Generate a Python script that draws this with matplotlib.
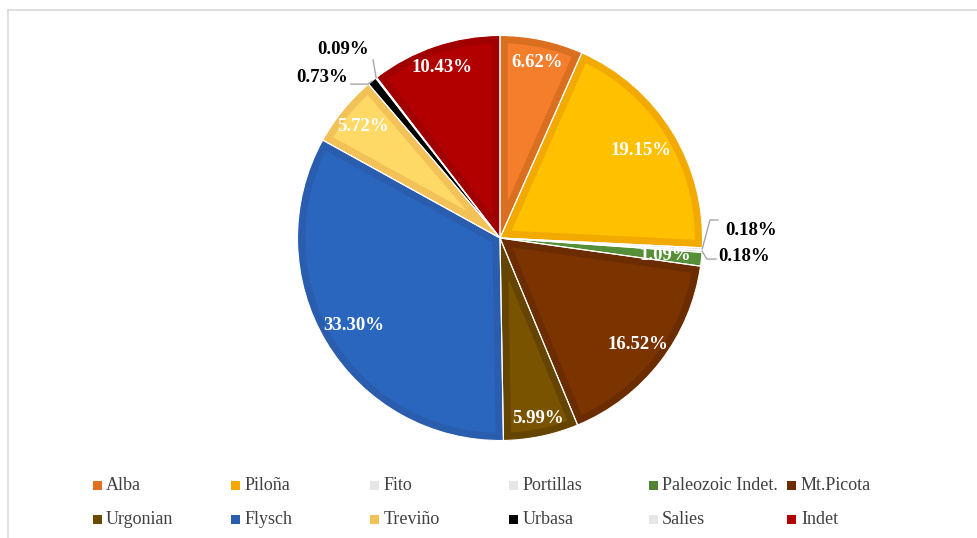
import numpy as np
import matplotlib.pyplot as plt
from matplotlib.patches import Rectangle, Polygon

labels = ['Alba', 'Piloña', 'Fito', 'Portillas', 'Paleozoic Indet.', 'Mt.Picota',
          'Urgonian', 'Flysch', 'Treviño', 'Urbasa', 'Salies', 'Indet']
values = [6.62, 19.15, 0.18, 0.18, 1.09, 16.52, 5.99, 33.30, 5.72, 0.73, 0.09, 10.43]
fills = ['#F47E2C', '#FFC000', '#E7E6E6', '#E7E6E6', '#62A043', '#7B3300',
         '#7A5300', '#2A66BE', '#FFD966', '#000000', '#E7E6E6', '#B20000']
rims = ['#D96F1F', '#F2A900', '#E0E0E0', '#E0E0E0', '#559038', '#6B2C00',
        '#654400', '#2A5DAE', '#F2C259', '#000000', '#E0E0E0', '#A00000']
legend_colors = ['#E07020', '#F5A800', '#E7E6E6', '#E7E6E6', '#548235', '#6B2C00',
                 '#6B4A00', '#2A5DAE', '#F2C259', '#000000', '#E7E6E6', '#B00000']

# labels drawn inside the slices, with their radial distance
inside_dist = {0: 0.885, 1: 0.82, 4: 0.82, 5: 0.86, 6: 0.91, 7: 0.84, 8: 0.87, 11: 0.89}

W, H = 978, 538
fig = plt.figure(figsize=(W / 100, H / 100), dpi=100)
plt.rcParams['font.family'] = ['Liberation Serif', 'DejaVu Serif']

# chart frame (only top and left edges are visible in the crop)
fig.add_artist(plt.Line2D([8 / W, 1], [1 - 10 / H, 1 - 10 / H], color='#D9D9D9', lw=1.2))
fig.add_artist(plt.Line2D([8 / W, 8 / W], [0, 1 - 10 / H], color='#D9D9D9', lw=1.2))

cx, cy, r = 500, 238, 202.5
ax = fig.add_axes([(cx - r) / W, (H - cy - r) / H, 2 * r / W, 2 * r / H])

# base pie in the darker rim colour
wedges, _ = ax.pie(values, colors=rims, startangle=90, counterclock=False, radius=1,
                   wedgeprops=dict(linewidth=0))

# lighter inner fill, inset from every edge by d
d = 0.038
for w, fc in zip(wedges, fills):
    t1, t2 = np.deg2rad(w.theta1), np.deg2rad(w.theta2)
    h = (t2 - t1) / 2
    da = np.arcsin(d / (1 - d))
    if h <= da + 0.01:
        continue
    mid = t1 + h
    apex = d / np.sin(h) * np.array([np.cos(mid), np.sin(mid)])
    arc = np.linspace(t1 + da, t2 - da, 60)
    pts = [apex] + [(1 - d) * np.array([np.cos(a), np.sin(a)]) for a in arc]
    ax.add_patch(Polygon(pts, closed=True, facecolor=fc, edgecolor='none'))

# thin white separators
ax.pie(values, colors=['none'] * len(values), startangle=90, counterclock=False, radius=1,
       wedgeprops=dict(linewidth=0.8, edgecolor='white', fill=False))

ax.set_xlim(-1, 1)
ax.set_ylim(-1, 1)
ax.set_aspect('equal')
ax.axis('off')

fs = 13.5
for i, w in enumerate(wedges):
    mid = np.deg2rad((w.theta1 + w.theta2) / 2)
    if i in inside_dist:
        dd = inside_dist[i]
        ax.text(dd * np.cos(mid), dd * np.sin(mid), f'{values[i]:.2f}%', color='white',
                fontsize=fs, fontweight='bold', ha='center', va='center')

def edge_point(i):
    w = wedges[i]
    mid = np.deg2rad((w.theta1 + w.theta2) / 2)
    return np.cos(mid), np.sin(mid)

lc = '#A6A6A6'
# Fito
ex, ey = edge_point(2)
ax.plot([ex, 1.037, 1.077], [ey, 0.089, 0.089], color=lc, lw=1, clip_on=False)
ax.text(1.111, 0.035, f'{values[2]:.2f}%', fontsize=fs, fontweight='bold', ha='left', va='center')
# Portillas
ex, ey = edge_point(3)
ax.plot([ex, 1.022, 1.067], [ey, -0.104, -0.104], color=lc, lw=1, clip_on=False)
ax.text(1.077, -0.089, f'{values[3]:.2f}%', fontsize=fs, fontweight='bold', ha='left', va='center')
# Urbasa
ex, ey = edge_point(9)
ax.plot([-0.736, -0.652, ex], [0.76, 0.76, ey], color=lc, lw=1, clip_on=False)
ax.text(-0.879, 0.795, f'{values[9]:.2f}%', fontsize=fs, fontweight='bold', ha='center', va='center')
# Salies
ex, ey = edge_point(10)
ax.plot([-0.627, ex], [0.879, ey], color=lc, lw=1, clip_on=False)
ax.text(-0.775, 0.933, f'{values[10]:.2f}%', fontsize=fs, fontweight='bold', ha='center', va='center')

# legend, 6 columns x 2 rows
for i, (lab, col) in enumerate(zip(labels, legend_colors)):
    mx = 97 + 139 * (i % 6)
    my = 485 + 34 * (i // 6)
    fig.add_artist(Rectangle(((mx - 4.5) / W, 1 - (my + 4.5) / H), 9 / W, 9 / H,
                             facecolor=col, edgecolor='none', transform=fig.transFigure))
    fig.text((mx + 9) / W, 1 - my / H, lab, fontsize=13, color='#404040',
             ha='left', va='center')

fig.savefig('out.png', dpi=100)
